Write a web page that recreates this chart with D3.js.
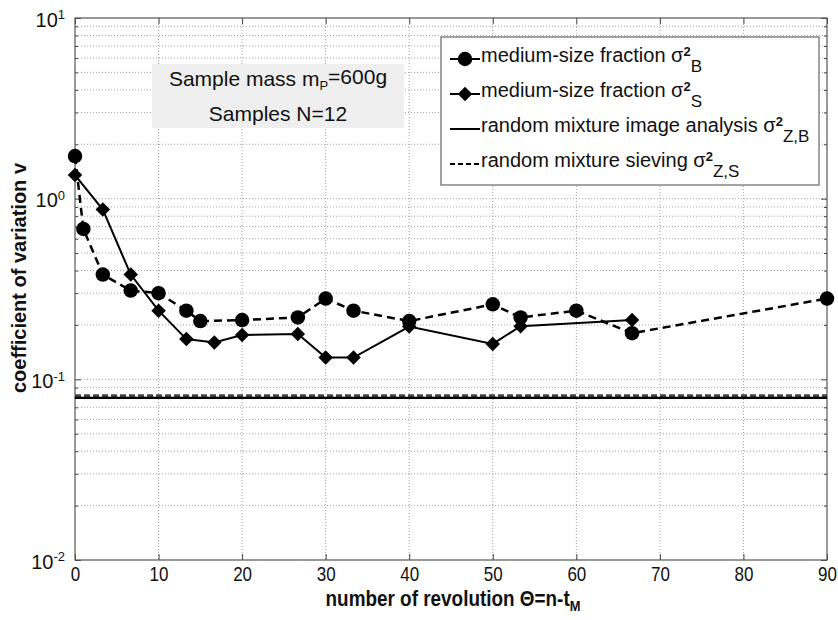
<!DOCTYPE html>
<html>
<head>
<meta charset="utf-8">
<script src="https://cdn.jsdelivr.net/npm/d3@7"></script>
<style>
  body { margin: 0; background: #fff; }
  svg { display: block; }
  text { font-family: "Liberation Sans", Arial, sans-serif; fill: #111; }
</style>
</head>
<body>
<svg id="chart" width="838" height="620"></svg>
<script>
// number of revolutions, medium-size fraction (image analysis, sigma^2_B)
var revB = [0, 1, 3.33, 6.67, 10, 13.33, 15, 20, 26.67, 30, 33.33, 40, 50, 53.33, 60, 66.67, 90];
var covB = [1.72, 0.68, 0.38, 0.31, 0.30, 0.24, 0.21, 0.213, 0.22, 0.28, 0.24, 0.21, 0.26, 0.22, 0.24, 0.18, 0.28];
// medium-size fraction (sieving, sigma^2_S)
var revS = [0, 3.33, 6.67, 10, 13.33, 16.67, 20, 26.67, 30, 33.33, 40, 50, 53.33, 66.67];
var covS = [1.35, 0.87, 0.38, 0.24, 0.167, 0.16, 0.176, 0.178, 0.132, 0.132, 0.196, 0.157, 0.197, 0.213];
// random mixture levels
var randomB = 0.079;
var randomS = 0.081;
var xTicks = [0, 10, 20, 30, 40, 50, 60, 70, 80, 90];
var yDecades = [-2, -1, 0, 1];

var plotL = 75, plotR = 827, plotT = 18, plotB = 560;

var svg = d3.select("#chart");

var x = d3.scaleLinear().domain([0, 90]).range([plotL, plotR]);
var y = d3.scaleLog().domain([0.01, 10]).range([plotB, plotT]);

var minorVals = [];
[0.01, 0.1, 1].forEach(function(d) {
  for (var k = 2; k <= 9; k++) minorVals.push(d * k);
});
var majorVals = yDecades.map(function(p) { return Math.pow(10, p); });

// grid
var grid = svg.append("g").attr("class", "grid")
  .style("stroke", "#888").style("stroke-width", 0.8).style("stroke-dasharray", "1,2");
grid.selectAll(".gx").data(xTicks.slice(1, -1)).enter().append("line")
  .attr("x1", x).attr("x2", x).attr("y1", plotT).attr("y2", plotB);
grid.selectAll(".gy").data(minorVals.concat(majorVals.slice(1, -1))).enter().append("line")
  .attr("x1", plotL).attr("x2", plotR).attr("y1", y).attr("y2", y);

// axes
function styleAxis(g) {
  g.select(".domain").remove();
  g.selectAll("line").style("stroke", "#444");
}
svg.append("g").attr("transform", "translate(0," + plotB + ")")
  .call(d3.axisBottom(x).tickValues(xTicks).tickSizeInner(-6).tickSizeOuter(0).tickPadding(7))
  .call(styleAxis)
  .selectAll("text")
  .style("font-size", "20px").style("fill", "#111")
  .attr("transform", "scale(0.85,1)");

svg.append("g").attr("transform", "translate(0," + plotT + ")")
  .call(d3.axisTop(x).tickValues(xTicks).tickSizeInner(-6).tickSizeOuter(0).tickFormat(""))
  .call(styleAxis);

svg.append("g").attr("transform", "translate(" + plotL + ",0)")
  .call(d3.axisLeft(y).tickValues(minorVals).tickSizeInner(-3).tickSizeOuter(0).tickFormat(""))
  .call(styleAxis);
svg.append("g").attr("transform", "translate(" + plotR + ",0)")
  .call(d3.axisRight(y).tickValues(minorVals).tickSizeInner(-3).tickSizeOuter(0).tickFormat(""))
  .call(styleAxis);
svg.append("g").attr("transform", "translate(" + plotR + ",0)")
  .call(d3.axisRight(y).tickValues(majorVals).tickSizeInner(-6).tickSizeOuter(0).tickFormat(""))
  .call(styleAxis);

var yAx = svg.append("g").attr("transform", "translate(" + plotL + ",0)")
  .call(d3.axisLeft(y).tickValues(majorVals).tickSizeInner(-6).tickSizeOuter(0).tickPadding(10).tickFormat(""))
  .call(styleAxis);
yAx.selectAll(".tick text").each(function(d) {
  var t = d3.select(this).style("font-size", "20px").attr("dy", "0.4em");
  t.append("tspan").text("10");
  t.append("tspan").attr("dy", "-0.55em").style("font-size", "13px").text(Math.round(Math.log10(d)));
});

svg.append("rect")
  .attr("x", plotL).attr("y", plotT).attr("width", plotR - plotL).attr("height", plotB - plotT)
  .style("fill", "none").style("stroke", "#555").style("stroke-width", 1.2);

// random mixture lines
svg.append("line")
  .attr("x1", plotL).attr("x2", plotR).attr("y1", y(randomS)).attr("y2", y(randomS))
  .style("stroke", "#444").style("stroke-width", 3).style("stroke-dasharray", "6,3");
svg.append("line")
  .attr("x1", plotL).attr("x2", plotR).attr("y1", y(randomB)).attr("y2", y(randomB))
  .style("stroke", "#000").style("stroke-width", 2.2);

// series
var dataB = revB.map(function(d, i) { return [d, covB[i]]; });
var dataS = revS.map(function(d, i) { return [d, covS[i]]; });
var line = d3.line().x(function(d) { return x(d[0]); }).y(function(d) { return y(d[1]); });

svg.append("path").datum(dataB).attr("d", line)
  .style("fill", "none").style("stroke", "#000").style("stroke-width", 2.5).style("stroke-dasharray", "8,5");
svg.append("path").datum(dataS).attr("d", line)
  .style("fill", "none").style("stroke", "#000").style("stroke-width", 2);

var circle = d3.symbol().type(d3.symbolCircle).size(165);
var diamond = d3.symbol().type(d3.symbolSquare).size(105);

svg.selectAll(".ptB").data(dataB).enter().append("path")
  .attr("d", circle)
  .attr("transform", function(d) { return "translate(" + x(d[0]) + "," + y(d[1]) + ")"; })
  .style("fill", "#000");
svg.selectAll(".ptS").data(dataS).enter().append("path")
  .attr("d", diamond)
  .attr("transform", function(d) { return "translate(" + x(d[0]) + "," + y(d[1]) + ") rotate(45)"; })
  .style("fill", "#000");

// annotation box
svg.append("rect").attr("x", 152).attr("y", 64).attr("width", 252).attr("height", 64)
  .style("fill", "#efefef");
var ann = svg.append("text").attr("x", 278).attr("y", 86).attr("text-anchor", "middle").style("font-size", "21px");
ann.append("tspan").text("Sample mass m");
ann.append("tspan").attr("dy", "0.3em").style("font-size", "13px").text("P");
ann.append("tspan").attr("dy", "-0.3em").text("=600g");
svg.append("text").attr("x", 278).attr("y", 121).attr("text-anchor", "middle").style("font-size", "21px")
  .text("Samples N=12");

// legend
var lg = svg.append("g");
lg.append("rect").attr("x", 441).attr("y", 37).attr("width", 378).attr("height", 148)
  .style("fill", "#fff").style("stroke", "#666").style("stroke-width", 1.2);
var legendItems = [
  { sub: "B", marker: "circle", dash: null, pre: "medium-size fraction " },
  { sub: "S", marker: "diamond", dash: null, pre: "medium-size fraction " },
  { sub: "Z,B", marker: null, dash: null, pre: "random mixture image analysis " },
  { sub: "Z,S", marker: null, dash: "5,3", pre: "random mixture sieving " }
];
legendItems.forEach(function(it, i) {
  var cy = 59 + i * 35;
  var l = lg.append("line").attr("x1", 450).attr("x2", 480).attr("y1", cy).attr("y2", cy)
    .style("stroke", "#000").style("stroke-width", 2);
  if (it.dash) l.style("stroke-dasharray", it.dash);
  if (it.marker === "circle") {
    lg.append("path").attr("d", circle).attr("transform", "translate(465," + cy + ")");
  } else if (it.marker === "diamond") {
    lg.append("path").attr("d", diamond).attr("transform", "translate(465," + cy + ") rotate(45)");
  }
  var t = lg.append("text").attr("x", 481).attr("y", cy + 3).style("font-size", "20px");
  t.append("tspan").text(it.pre + "\u03c3");
  t.append("tspan").attr("dy", "-0.45em").style("font-size", "13px").style("font-weight", "bold").text("2");
  t.append("tspan").attr("dy", "0.95em").style("font-size", "17px").text(it.sub);
});

// axis labels
var xl = svg.append("text").attr("text-anchor", "middle")
  .attr("transform", "translate(453,606) scale(0.86,1)")
  .style("font-weight", "bold").style("font-size", "22px");
xl.append("tspan").text("number of revolution \u0398=n-t");
xl.append("tspan").attr("dy", "0.3em").style("font-size", "15px").text("M");

svg.append("text").attr("transform", "translate(26,278) rotate(-90)")
  .attr("text-anchor", "middle").style("font-weight", "bold").style("font-size", "20px")
  .text("coefficient of variation v");
</script>
</body>
</html>
